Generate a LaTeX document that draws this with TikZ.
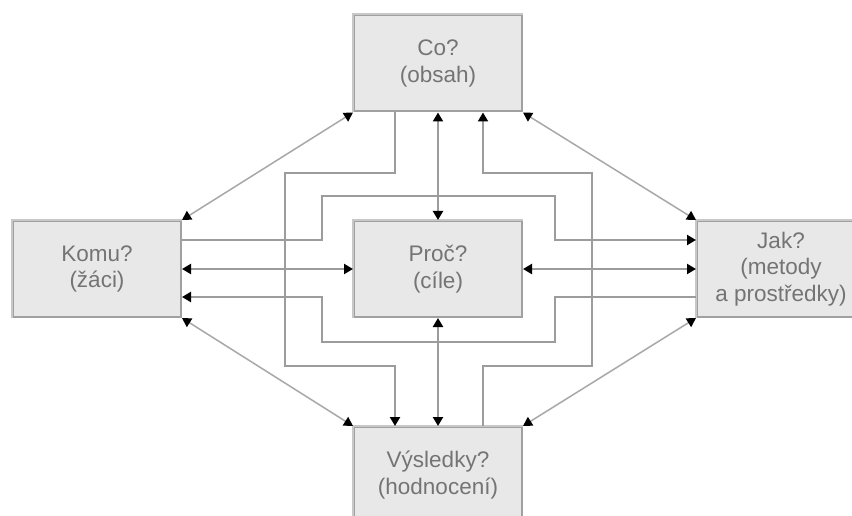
\documentclass[tikz,border=0pt]{standalone}
\usepackage{fontspec}
\setmainfont{Liberation Sans}
\usetikzlibrary{arrows.meta}
\definecolor{boxfill}{HTML}{E8E8E8}
\definecolor{boxedge}{HTML}{A0A0A0}
\definecolor{boxlight}{HTML}{C8C8C8}
\definecolor{linecol}{HTML}{9C9C9C}
\definecolor{diagcol}{HTML}{A8A8A8}
\definecolor{txtcol}{HTML}{747474}
\tikzset{
  box/.style={draw=boxedge, fill=boxfill, line width=2pt, minimum width=168pt,
    minimum height=96pt, inner sep=0pt, align=center, text=txtcol,
    font=\fontsize{22.5}{26.5}\selectfont},
  bevel/.style={draw=boxlight, line width=2pt},
  ln/.style={draw=linecol, line width=2.2pt},
  dg/.style={draw=diagcol, line width=1.5pt},
  >={Triangle[length=9pt,width=10pt,color=black]}
}
\begin{document}
\begin{tikzpicture}[x=1pt,y=-1pt]
\useasboundingbox (0,0) rectangle (852,516);
\clip (0,0) rectangle (852,516);
\fill[white] (0,0) rectangle (852,516);

\node[box] (co)   at (438,63.5) {Co?\\(obsah)};
\node[box] (komu) at (97,269)   {Komu?\\(žáci)};
\node[box] (proc) at (438,269)  {Proč?\\(cíle)};
\node[box] (jak)  at (781,269)  {Jak?\\(metody\\a prostředky)};
\node[box] (vys)  at (438,475)  {Výsledky?\\(hodnocení)};

\foreach \n in {co,komu,proc,jak,vys}{
  \draw[bevel] (\n.south west) -- (\n.north west) -- (\n.north east);
}

% outer elbows
\draw[ln,->] (co.south -| 395,0) |- (285,173) |- (395,366) -- (vys.north -| 395,0);
\draw[ln,->] (vys.north -| 483,0) |- (592,366) |- (483,173) -- (co.south -| 483,0);
% inner elbows
\draw[ln,->] (komu.east |- 0,240) -| (322,196) -| (555,240) -- (jak.west |- 0,240);
\draw[ln,->] (jak.west |- 0,297) -| (555,342) -| (322,297) -- (komu.east |- 0,297);
% straight
\draw[ln,<->] (komu.east) -- (proc.west);
\draw[ln,<->] (proc.east) -- (jak.west);
\draw[ln,<->] (co.south) -- (proc.north);
\draw[ln,<->] (proc.south) -- (vys.north);
% diagonals
\draw[dg,<->] (co.south west) -- (komu.north east);
\draw[dg,<->] (co.south east) -- (jak.north west);
\draw[dg,<->] (komu.south east) -- (vys.north west);
\draw[dg,<->] (jak.south west) -- (vys.north east);
\end{tikzpicture}
\end{document}
